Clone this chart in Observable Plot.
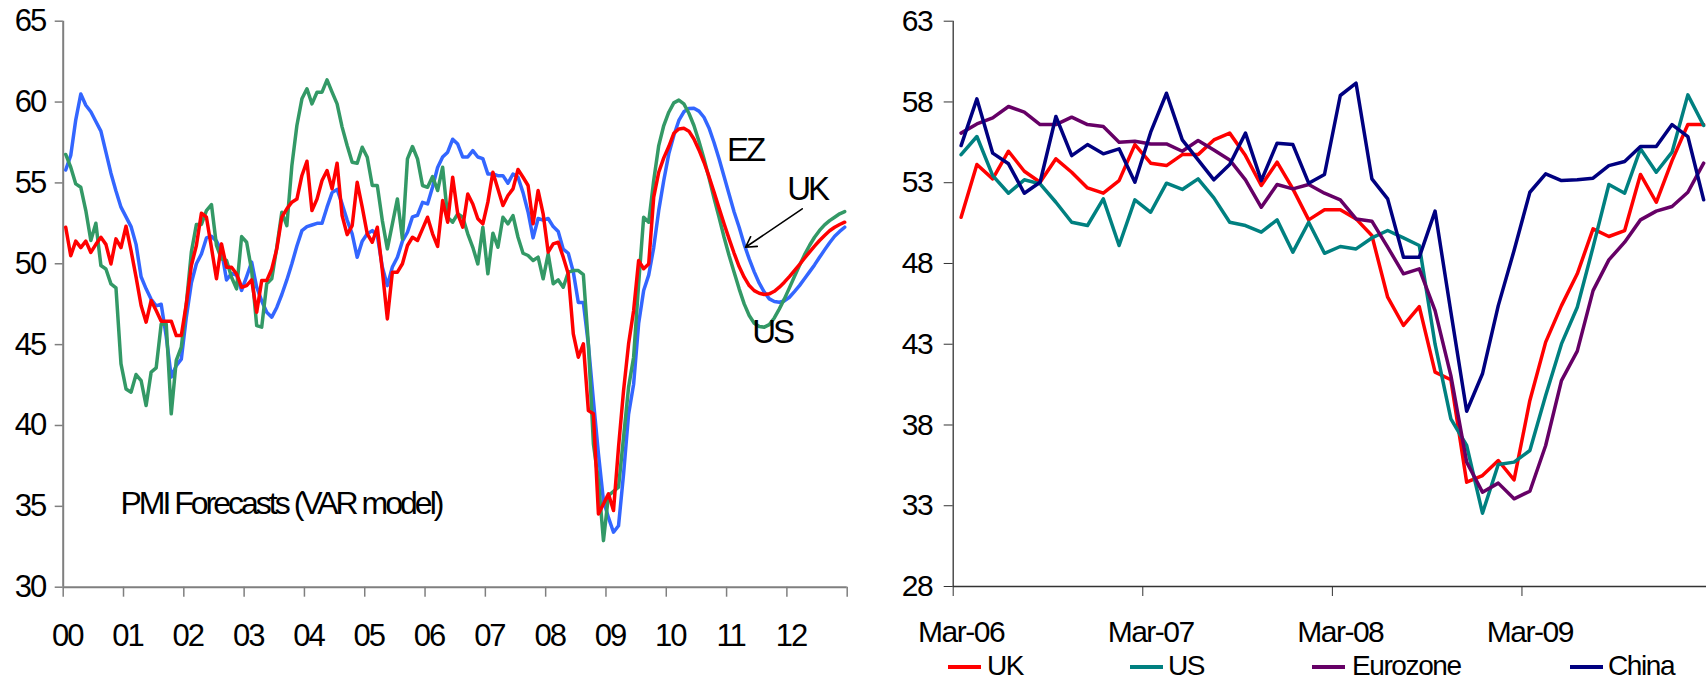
<!DOCTYPE html>
<html>
<head>
<meta charset="utf-8">
<script src="https://cdn.jsdelivr.net/npm/d3@7"></script>
<script src="https://cdn.jsdelivr.net/npm/@observablehq/plot@0.6"></script>
<style>
  html, body { margin: 0; padding: 0; background: #fff; }
  #wrap { position: relative; width: 1706px; height: 681px; overflow: hidden;
          font-family: "Liberation Sans", Arial, sans-serif; color: #000; }
  #left { position: absolute; left: 0; top: 0; width: 870px; height: 681px; }
  #right { position: absolute; left: 870px; top: 0; width: 836px; height: 681px; }
  #left svg { font-family: "Liberation Sans", Arial, sans-serif; font-size: 31px; letter-spacing: -2px; }
  #left svg g[font-size="33"] { letter-spacing: -3px; }
  #left svg g[font-size="32"] { letter-spacing: -3px; }
  #right svg { font-family: "Liberation Sans", Arial, sans-serif; font-size: 30px; letter-spacing: -1.5px; }
  #legend { position: relative; width: 836px; height: 29px; }
  #legend .sw { position: absolute; top: 12.7px; height: 4px; }
  #legend .lb { position: absolute; top: -2.2px; font-size: 28px; line-height: 31px; letter-spacing: -1.4px; white-space: nowrap; }
</style>
</head>
<body>
<div id="wrap">
  <div id="left"></div>
  <div id="right"><div id="rightPlot"></div><div id="legend"></div></div>
</div>
<script>
// ---------- Left panel: monthly PMI, Jan 2000 – Dec 2012 (actuals, then VAR forecast) ----------
const yearLabels = ["00","01","02","03","04","05","06","07","08","09","10","11","12"];

const ezPMI = [
  55.8,56.7,58.9,60.5,59.8,59.4,58.8,58.2,56.9,55.6,54.5,53.5,
  52.9,52.3,51.2,49.2,48.45,47.8,47.4,47.5,45.5,43.0,43.7,44.1,
  46.7,48.8,50.0,50.6,51.6,51.7,51.4,50.8,49.0,49.4,49.3,48.35,
  49.2,50.1,48.55,47.7,47.0,46.7,47.3,48.1,49.0,50.0,51.1,52.05,
  52.3,52.4,52.5,52.5,53.5,54.4,54.6,53.7,52.7,51.85,50.4,51.4,
  51.85,52.05,51.75,49.8,48.65,49.8,50.4,51.4,51.95,52.9,53.0,53.8,
  53.7,54.75,55.95,56.6,56.9,57.7,57.4,56.6,56.6,57.0,56.6,56.5,
  55.55,55.55,55.45,55.45,54.98,55.55,55.35,54.4,53.2,51.6,52.8,52.7,
  52.8,52.3,52.0,50.9,50.65,49.5,47.6,47.6,45.0,41.55,38.25,35.35,
  34.3,33.4,33.8,37.0,40.7,42.55,46.3,48.35,49.3,51.0,53.3,55.15,
  56.8,57.93,58.86,59.4,59.6,59.62,59.44,59.06,58.4,57.5,56.5,55.4,
  54.3,53.2,52.26,51.2,50.3,49.5,48.8,48.25,47.83,47.67,47.62,47.7,
  47.93,48.28,48.65,49.07,49.5,49.93,50.4,50.86,51.3,51.7,52.0,52.26
];

const ukPMI = [
  52.26,50.5,51.4,51.0,51.4,50.7,51.2,51.64,51.2,49.99,51.54,51.0,
  52.32,50.82,49.17,47.42,46.39,47.73,47.11,46.45,46.45,46.45,45.56,45.56,
  47.52,49.89,51.13,53.13,52.88,51.0,49.07,51.23,49.79,49.79,49.37,48.55,
  48.65,49.0,47.0,48.96,48.96,49.68,50.92,52.88,53.4,53.81,54.0,55.46,
  56.34,53.29,54.0,55.15,55.77,54.63,56.22,52.98,51.8,52.36,55.04,53.5,
  51.85,51.33,52.26,49.58,46.59,49.48,49.48,50.0,51.13,51.64,51.44,52.16,
  52.88,51.85,51.07,53.91,52.57,55.35,53.09,52.26,54.32,53.7,52.78,52.47,
  53.81,55.66,54.63,53.6,54.22,54.63,55.83,55.35,54.84,52.47,54.53,53.09,
  50.72,51.23,51.33,50.41,49.38,45.66,44.22,45.05,40.92,40.72,34.53,35.15,
  35.77,34.74,38.66,42.16,45.05,47.1,50.2,49.69,49.99,54.12,55.66,56.55,
  57.25,58.07,58.34,58.38,58.2,57.72,57.04,56.28,55.4,54.43,53.44,52.47,
  51.54,50.65,49.83,49.17,48.65,48.34,48.18,48.1,48.14,48.3,48.55,48.86,
  49.21,49.58,49.95,50.34,50.72,51.09,51.44,51.75,52.04,52.26,52.43,52.57
];

const usPMI = [
  56.76,55.97,54.94,54.73,53.29,51.44,52.51,49.89,49.68,48.76,48.51,43.81,
  42.26,42.06,43.15,42.78,41.23,43.3,43.56,46.28,46.28,40.72,44.02,44.84,
  47.52,50.72,52.43,52.43,53.29,53.66,51.13,50.3,50.2,49.17,48.45,51.68,
  51.33,49.58,46.18,46.08,48.76,49.07,51.02,53.19,52.36,56.07,58.55,60.2,
  60.82,59.89,60.61,60.61,61.37,60.61,59.89,58.45,57.31,56.28,56.22,57.21,
  56.59,54.84,54.84,52.67,50.92,52.47,54.01,51.54,56.49,57.25,56.49,54.84,
  54.73,55.39,54.53,55.97,52.88,52.57,53.09,52.88,51.85,51.02,49.99,52.26,
  49.38,51.89,51.02,52.88,52.47,52.98,51.64,50.65,50.51,50.2,50.41,49.07,
  50.61,48.76,49.0,48.55,49.48,49.58,49.58,49.33,45.05,38.86,36.6,32.88,
  35.67,35.93,36.18,39.27,42.37,44.22,48.76,52.88,52.57,55.15,57.31,58.55,
  59.37,59.95,60.12,59.89,59.31,58.55,57.58,56.49,55.31,54.07,52.88,51.64,
  50.51,49.48,48.45,47.52,46.8,46.32,46.12,46.08,46.24,46.65,47.21,47.83,
  48.51,49.21,49.89,50.55,51.13,51.64,52.06,52.41,52.67,52.88,53.09,53.23
];

// ---------- Right panel: monthly PMI, Mar 2006 – Feb 2010 ----------
const monthLabels = ["Mar-06","Mar-07","Mar-08","Mar-09"];
const seriesNames = ["UK","US","Eurozone","China"];

const ukRecent = [
  50.86,54.13,53.24,54.95,53.71,53.03,54.48,53.65,52.68,52.35,53.13,55.36,
  54.21,54.06,54.74,54.74,55.65,56.07,54.68,52.83,54.27,52.62,50.7,51.32,
  51.32,50.76,49.73,45.91,44.16,45.33,41.27,40.8,34.46,34.87,35.8,34.6,
  39.52,43.13,45.39,47.36,50.14,49.67,50.04,53.51,51.79,54.37,56.6,56.6
];
const usRecent = [
  54.74,55.86,53.44,52.35,53.18,52.93,51.79,50.55,50.35,52.0,49.11,51.94,
  51.17,52.97,52.58,53.24,52.06,50.55,50.35,49.94,50.7,48.7,50.55,48.63,
  49.05,48.9,49.58,50.04,49.58,49.11,43.0,38.38,36.73,32.54,35.55,35.7,
  36.42,39.83,43.02,45.29,49.01,52.89,52.35,55.1,53.65,54.89,58.44,56.54
];
const ezRecent = [
  56.07,56.64,57.01,57.72,57.37,56.6,56.6,57.06,56.6,56.48,55.51,55.57,
  55.4,55.4,54.95,55.61,55.03,54.41,53.18,51.48,52.89,52.62,52.89,52.35,
  51.94,50.76,50.62,49.01,47.36,47.67,45.08,41.06,35.7,33.84,34.4,33.43,
  33.9,36.73,40.75,42.57,46.32,48.22,49.32,50.7,51.24,51.53,52.41,54.21
];
const cnRecent = [
  55.3,58.19,54.83,54.17,52.35,53.03,57.1,54.68,55.36,54.79,55.1,53.03,
  56.13,58.54,55.65,54.41,53.18,54.13,56.07,53.13,55.45,55.36,52.97,53.51,
  58.4,59.16,53.24,52.0,48.39,48.39,51.24,45.0,38.85,41.17,45.39,48.8,
  52.41,53.55,53.13,53.18,53.28,54.06,54.31,55.24,55.24,56.6,55.86,51.94
];

const axisGrey = "#7f7f7f";
const idx = (d, i) => i;
const val = d => d;

// Year boundaries (tick marks) and year-start months (labels), in month-index units
const yearBounds = d3.range(0, 14).map(n => n * 12 - 0.5);
const yearStarts = yearLabels.map((_, n) => n * 12);

const leftPlot = Plot.plot({
  width: 870,
  height: 681,
  marginLeft: 62.7,
  marginRight: 23.3,
  marginTop: 20.7,
  marginBottom: 94.3,
  x: { domain: [-0.5, 155.5] },
  y: { domain: [30, 65] },
  marks: [
    Plot.axisY(d3.range(30, 66, 5), { tickSize: 8, tickPadding: 10, stroke: axisGrey, strokeWidth: 1.5, fill: "#000", label: null }),
    Plot.axisX(yearBounds, { tickSize: 10, tickFormat: () => "", stroke: axisGrey, strokeWidth: 1.5, label: null }),
    Plot.axisX(yearStarts, { tickSize: 0, tickPadding: 36.6, dx: 1.5, tickFormat: i => yearLabels[i / 12], fill: "#000", label: null }),
    Plot.ruleX([-0.5], { stroke: axisGrey, strokeWidth: 2 }),
    Plot.ruleY([30], { stroke: axisGrey, strokeWidth: 2 }),
    Plot.line(ezPMI, { x: idx, y: val, stroke: "#3366ff", strokeWidth: 3.5 }),
    Plot.line(usPMI, { x: idx, y: val, stroke: "#339966", strokeWidth: 3.5 }),
    Plot.line(ukPMI, { x: idx, y: val, stroke: "#ff0000", strokeWidth: 3.5 }),
    Plot.text([
      { x: 131.6, y: 56.99, t: "EZ" },
      { x: 143.56, y: 54.59, t: "UK" },
      { x: 136.6, y: 45.77, t: "US" },
    ], { x: "x", y: "y", text: "t", textAnchor: "start", fontSize: 33, fill: "#000" }),
    Plot.text([{ x: 10.9, y: 35.15, t: "PMI Forecasts (VAR model)" }],
      { x: "x", y: "y", text: "t", textAnchor: "start", fontSize: 32, fill: "#000" }),
    Plot.arrow([{ x1: 146.55, y1: 53.4, x2: 135.27, y2: 51.02 }],
      { x1: "x1", y1: "y1", x2: "x2", y2: "y2", stroke: "#000", strokeWidth: 1.6, headLength: 11 })
  ]
});
document.getElementById("left").appendChild(leftPlot);

// ---------- Right panel ----------
const monthBounds = [0, 12, 24, 36].map(k => k - 0.5);
const monthStarts = [0, 12, 24, 36];
const recent = [
  { data: ukRecent, color: "#ff0000" },
  { data: usRecent, color: "#008080" },
  { data: ezRecent, color: "#660066" },
  { data: cnRecent, color: "#000080" }
];

const rightPlot = Plot.plot({
  width: 836,
  height: 652,
  marginLeft: 82.7,
  marginRight: 0,
  marginTop: 20.7,
  marginBottom: 66,
  x: { domain: [-0.5, 47.18] },
  y: { domain: [28, 63] },
  marks: [
    Plot.axisY(d3.range(28, 64, 5), { tickSize: 9, tickPadding: 12, stroke: "#333", fill: "#000", label: null }),
    Plot.axisX(monthBounds, { tickSize: 10, tickFormat: () => "", stroke: "#333", label: null }),
    Plot.axisX(monthStarts, { tickSize: 0, tickPadding: 34, tickFormat: k => monthLabels[k / 12], fill: "#000", label: null }),
    Plot.ruleX([-0.5], { stroke: "#333", strokeWidth: 1.3 }),
    Plot.ruleY([28], { stroke: "#333", strokeWidth: 1.3 }),
    ...recent.map(s => Plot.line(s.data, { x: idx, y: val, stroke: s.color, strokeWidth: 3.5 }))
  ]
});
document.getElementById("rightPlot").appendChild(rightPlot);

// Legend below the right panel
const legendPos = [
  { sw: 78, lb: 117 },
  { sw: 260, lb: 298 },
  { sw: 441.7, lb: 482 },
  { sw: 700, lb: 738 }
];
const legend = document.getElementById("legend");
seriesNames.forEach((name, i) => {
  const sw = document.createElement("div");
  sw.className = "sw";
  sw.style.left = legendPos[i].sw + "px";
  sw.style.width = "33px";
  sw.style.background = recent[i].color;
  legend.appendChild(sw);
  const lb = document.createElement("div");
  lb.className = "lb";
  lb.style.left = legendPos[i].lb + "px";
  lb.textContent = name;
  legend.appendChild(lb);
});
</script>
</body>
</html>
